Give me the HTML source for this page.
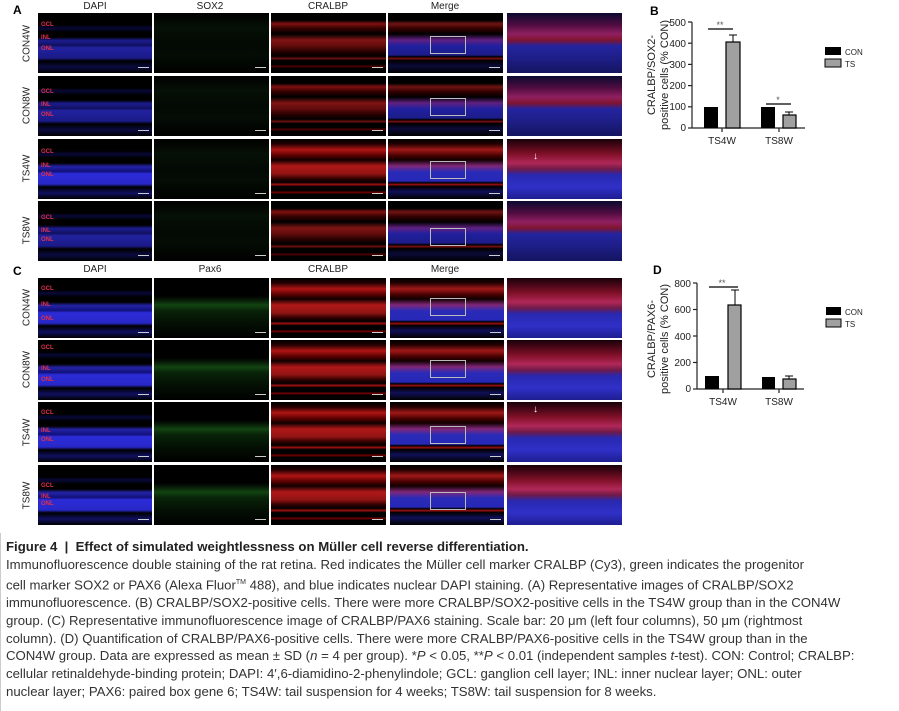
<!DOCTYPE html>
<html><head><meta charset="utf-8"><style>
body{margin:0;width:899px;height:711px;background:#fff;position:relative;overflow:hidden;font-family:"Liberation Sans",sans-serif}
.t{position:absolute;background:#000;overflow:hidden}
.h{position:absolute;font-size:10px;color:#222;text-align:center;width:116px}
.r{position:absolute;font-size:10px;color:#222;transform:rotate(-90deg);transform-origin:center;width:60px;text-align:center}
.lb{position:absolute;font-size:6px;color:#e0304a;font-weight:bold;left:3px}
.P{position:absolute;font-weight:bold;font-size:12px}
.dapi{background:linear-gradient(#000 0,#000 20%,#080838 25%,#000 32%,#000 40%,#1c1c90 46%,#101060 54%,#2222a0 58%,#1a1a88 75%,#000 80%,#0a0a40 90%,#000 100%)}
.dapib{background:linear-gradient(#000 0,#000 20%,#080838 25%,#000 32%,#000 40%,#2424a8 46%,#10107a 54%,#2c2cd8 58%,#2828c8 75%,#000 80%,#101060 90%,#000 100%)}
.sox{background:linear-gradient(#000 0,#061006 25%,#030903 50%,#040c04 70%,#000 100%)}
.pax{background:linear-gradient(#000 0,#000 30%,#0a200a 38%,#124412 45%,#082208 55%,#041004 75%,#000 100%)}
.cra{background:linear-gradient(#000 0,#000 12%,#801010 18%,#300 26%,#000 35%,#801414 45%,#600c0c 55%,#200 65%,#000 72%,#701010 76%,#000 79%,#000 86%,#500 89%,#000 92%)}
.crab{background:linear-gradient(#000 0,#200 8%,#b01414 18%,#500 28%,#100 35%,#b01818 45%,#901414 58%,#300 66%,#000 72%,#a01010 76%,#000 79%,#000 86%,#700 89%,#000 92%)}
.mer{background:linear-gradient(#000 0,#000 12%,#701414 18%,#300 26%,#000 35%,#602080 45%,#2020a0 55%,#1c1c88 70%,#000 73%,#801010 76%,#000 79%,#0a0a38 88%,#000 100%)}
.merb{background:linear-gradient(#000 0,#200 8%,#a01818 18%,#400 28%,#100 35%,#802878 45%,#2a2ab8 55%,#2828b8 70%,#000 73%,#a01010 76%,#000 79%,#101058 88%,#000 100%)}
.zm{background:linear-gradient(#0a0a30 0,#500c40 20%,#902060 35%,#801430 45%,#2424a0 55%,#1e1e88 75%,#141460 100%)}
.zmb{background:linear-gradient(#180008 0,#801028 25%,#b02858 40%,#701a48 50%,#2828b0 60%,#3030c8 80%,#1e1e90 100%)}
.box{position:absolute;border:1px solid #bbb;left:42px;top:22px;width:34px;height:16px}
.sb{position:absolute;right:3px;bottom:2px;width:11px;height:3px;border-top:1px solid #ccc}
.cap{position:absolute;left:6px;font-family:"Liberation Sans Narrow","Liberation Sans",sans-serif;font-size:13.2px;color:#333;white-space:nowrap;line-height:17.8px}
</style></head><body>
<div class="P" style="left:13px;top:3px">A</div>
<div class="h" style="left:37px;top:1px">DAPI</div>
<div class="h" style="left:152px;top:1px">SOX2</div>
<div class="h" style="left:270px;top:1px">CRALBP</div>
<div class="h" style="left:387px;top:1px">Merge</div>
<div class="r" style="left:-3px;top:38px">CON4W</div>
<div class="r" style="left:-3px;top:100px">CON8W</div>
<div class="r" style="left:-3px;top:163px">TS4W</div>
<div class="r" style="left:-3px;top:225px">TS8W</div>

<div class="t dapi" style="left:38px;top:13px;width:114px;height:60px"><div class="lb" style="top:9px">GCL</div><div class="lb" style="top:22px">INL</div><div class="lb" style="top:33px">ONL</div><div class="sb"></div></div>
<div class="t sox" style="left:154px;top:13px;width:115px;height:60px"><div class="sb"></div></div>
<div class="t cra" style="left:271px;top:13px;width:115px;height:60px"><div class="sb"></div></div>
<div class="t mer" style="left:388px;top:13px;width:115px;height:60px"><div class="box" style="top:23px"></div><div class="sb"></div></div>
<div class="t zm" style="left:507px;top:13px;width:115px;height:60px"></div>

<div class="t dapi" style="left:38px;top:76px;width:114px;height:60px"><div class="lb" style="top:13px">GCL</div><div class="lb" style="top:26px">INL</div><div class="lb" style="top:36px">ONL</div><div class="sb"></div></div>
<div class="t sox" style="left:154px;top:76px;width:115px;height:60px"><div class="sb"></div></div>
<div class="t cra" style="left:271px;top:76px;width:115px;height:60px"><div class="sb"></div></div>
<div class="t mer" style="left:388px;top:76px;width:115px;height:60px"><div class="box"></div><div class="sb"></div></div>
<div class="t zm" style="left:507px;top:76px;width:115px;height:60px"></div>

<div class="t dapib" style="left:38px;top:139px;width:114px;height:60px"><div class="lb" style="top:10px">GCL</div><div class="lb" style="top:24px">INL</div><div class="lb" style="top:33px">ONL</div><div class="sb"></div></div>
<div class="t sox" style="left:154px;top:139px;width:115px;height:60px"><div class="sb"></div></div>
<div class="t crab" style="left:271px;top:139px;width:115px;height:60px"><div class="sb"></div></div>
<div class="t merb" style="left:388px;top:139px;width:115px;height:60px"><div class="box"></div><div class="sb"></div></div>
<div class="t zmb" style="left:507px;top:139px;width:115px;height:60px"><div style="position:absolute;left:26px;top:12px;color:#fff;font-size:10px">↓</div></div>

<div class="t dapi" style="left:38px;top:201px;width:114px;height:60px"><div class="lb" style="top:14px">GCL</div><div class="lb" style="top:27px">INL</div><div class="lb" style="top:36px">ONL</div><div class="sb"></div></div>
<div class="t sox" style="left:154px;top:201px;width:115px;height:60px"><div class="sb"></div></div>
<div class="t cra" style="left:271px;top:201px;width:115px;height:60px"><div class="sb"></div></div>
<div class="t mer" style="left:388px;top:201px;width:115px;height:60px"><div class="box" style="top:27px"></div><div class="sb"></div></div>
<div class="t zm" style="left:507px;top:201px;width:115px;height:60px"></div>

<div class="P" style="left:13px;top:264px">C</div>
<div class="h" style="left:37px;top:264px">DAPI</div>
<div class="h" style="left:152px;top:264px">Pax6</div>
<div class="h" style="left:270px;top:264px">CRALBP</div>
<div class="h" style="left:387px;top:264px">Merge</div>
<div class="r" style="left:-3px;top:302px">CON4W</div>
<div class="r" style="left:-3px;top:364px">CON8W</div>
<div class="r" style="left:-3px;top:427px">TS4W</div>
<div class="r" style="left:-3px;top:490px">TS8W</div>

<div class="t dapib" style="left:38px;top:278px;width:114px;height:60px"><div class="lb" style="top:8px">GCL</div><div class="lb" style="top:24px">INL</div><div class="lb" style="top:38px">ONL</div><div class="sb"></div></div>
<div class="t pax" style="left:154px;top:278px;width:115px;height:60px"><div class="sb"></div></div>
<div class="t crab" style="left:271px;top:278px;width:115px;height:60px"><div class="sb"></div></div>
<div class="t merb" style="left:390px;top:278px;width:114px;height:60px"><div class="box" style="left:40px;top:20px"></div><div class="sb"></div></div>
<div class="t zmb" style="left:507px;top:278px;width:115px;height:60px"></div>

<div class="t dapib" style="left:38px;top:340px;width:114px;height:60px"><div class="lb" style="top:5px">GCL</div><div class="lb" style="top:26px">INL</div><div class="lb" style="top:37px">ONL</div><div class="sb"></div></div>
<div class="t pax" style="left:154px;top:340px;width:115px;height:60px"><div class="sb"></div></div>
<div class="t crab" style="left:271px;top:340px;width:115px;height:60px"><div class="sb"></div></div>
<div class="t merb" style="left:390px;top:340px;width:114px;height:60px"><div class="box" style="left:40px;top:20px"></div><div class="sb"></div></div>
<div class="t zmb" style="left:507px;top:340px;width:115px;height:60px"></div>

<div class="t dapib" style="left:38px;top:402px;width:114px;height:60px"><div class="lb" style="top:8px">GCL</div><div class="lb" style="top:26px">INL</div><div class="lb" style="top:35px">ONL</div><div class="sb"></div></div>
<div class="t pax" style="left:154px;top:402px;width:115px;height:60px"><div class="sb"></div></div>
<div class="t crab" style="left:271px;top:402px;width:115px;height:60px"><div class="sb"></div></div>
<div class="t merb" style="left:390px;top:402px;width:114px;height:60px"><div class="box" style="left:40px;top:24px"></div><div class="sb"></div></div>
<div class="t zmb" style="left:507px;top:402px;width:115px;height:60px"><div style="position:absolute;left:26px;top:2px;color:#fff;font-size:10px">↓</div></div>

<div class="t dapib" style="left:38px;top:465px;width:114px;height:60px"><div class="lb" style="top:18px">GCL</div><div class="lb" style="top:29px">INL</div><div class="lb" style="top:36px">ONL</div><div class="sb"></div></div>
<div class="t pax" style="left:154px;top:465px;width:115px;height:60px"><div class="sb"></div></div>
<div class="t crab" style="left:271px;top:465px;width:115px;height:60px"><div class="sb"></div></div>
<div class="t merb" style="left:390px;top:465px;width:114px;height:60px"><div class="box" style="left:40px;top:27px"></div><div class="sb"></div></div>
<div class="t zmb" style="left:507px;top:465px;width:115px;height:60px"></div>

<svg style="position:absolute;left:0;top:0" width="899" height="540" font-family="Liberation Sans, sans-serif">
<text x="650" y="15" font-size="12" font-weight="bold">B</text>
<g stroke="#222" stroke-width="1.2" fill="none"><line x1="692" y1="22" x2="692" y2="128"/><line x1="692" y1="128" x2="805" y2="128"/>
<line x1="688" y1="22" x2="692" y2="22"/><line x1="688" y1="43.2" x2="692" y2="43.2"/><line x1="688" y1="64.4" x2="692" y2="64.4"/><line x1="688" y1="85.6" x2="692" y2="85.6"/><line x1="688" y1="106.8" x2="692" y2="106.8"/><line x1="688" y1="128" x2="692" y2="128"/>
<line x1="722" y1="128" x2="722" y2="132"/><line x1="779" y1="128" x2="779" y2="132"/></g>
<g font-size="10" fill="#222" text-anchor="end"><text x="686" y="26">500</text><text x="686" y="47">400</text><text x="686" y="68">300</text><text x="686" y="89">200</text><text x="686" y="110">100</text><text x="686" y="131">0</text></g>
<rect x="704" y="107" width="14" height="21" fill="#000"/>
<rect x="726" y="42" width="14" height="86" fill="#a0a0a0" stroke="#000" stroke-width="1.2"/>
<line x1="733" y1="42" x2="733" y2="35" stroke="#000"/><line x1="729" y1="35" x2="737" y2="35" stroke="#000"/>
<rect x="761" y="107" width="14" height="21" fill="#000"/>
<rect x="783" y="115" width="13" height="13" fill="#a0a0a0" stroke="#000" stroke-width="1.2"/>
<line x1="789" y1="115" x2="789" y2="112" stroke="#000"/><line x1="785" y1="112" x2="793" y2="112" stroke="#000"/>
<line x1="708" y1="29" x2="733" y2="29" stroke="#000" stroke-width="1.2"/><text x="720" y="28" font-size="9" fill="#555" text-anchor="middle">**</text>
<line x1="766" y1="104" x2="791" y2="104" stroke="#000" stroke-width="1.2"/><text x="778" y="103" font-size="9" fill="#555" text-anchor="middle">*</text>
<g font-size="10" fill="#222" text-anchor="middle"><text x="722" y="144">TS4W</text><text x="779" y="144">TS8W</text></g>
<text transform="translate(655,75) rotate(-90)" font-size="11" fill="#222" text-anchor="middle">CRALBP/SOX2-</text>
<text transform="translate(668,75) rotate(-90)" font-size="11" fill="#222" text-anchor="middle">positive cells (% CON)</text>
<rect x="825" y="47" width="16" height="8" fill="#000"/><text x="845" y="55" font-size="8" fill="#222">CON</text>
<rect x="825" y="59" width="16" height="8" fill="#a0a0a0" stroke="#000"/><text x="845" y="67" font-size="8" fill="#222">TS</text>

<text x="653" y="274" font-size="12" font-weight="bold">D</text>
<g stroke="#222" stroke-width="1.2" fill="none"><line x1="697" y1="283" x2="697" y2="389"/><line x1="697" y1="389" x2="804" y2="389"/>
<line x1="693" y1="283" x2="697" y2="283"/><line x1="693" y1="309.5" x2="697" y2="309.5"/><line x1="693" y1="336" x2="697" y2="336"/><line x1="693" y1="362.5" x2="697" y2="362.5"/><line x1="693" y1="389" x2="697" y2="389"/>
<line x1="723" y1="389" x2="723" y2="393"/><line x1="779" y1="389" x2="779" y2="393"/></g>
<g font-size="10" fill="#222" text-anchor="end"><text x="691" y="287">800</text><text x="691" y="313">600</text><text x="691" y="340">400</text><text x="691" y="366">200</text><text x="691" y="392">0</text></g>
<rect x="705" y="376" width="14" height="13" fill="#000"/>
<rect x="728" y="305" width="13" height="84" fill="#a0a0a0" stroke="#000" stroke-width="1.2"/>
<line x1="735" y1="305" x2="735" y2="290" stroke="#000"/><line x1="731" y1="290" x2="739" y2="290" stroke="#000"/>
<rect x="762" y="377" width="13" height="12" fill="#000"/>
<rect x="783" y="379" width="13" height="10" fill="#a0a0a0" stroke="#000" stroke-width="1.2"/>
<line x1="789" y1="379" x2="789" y2="376" stroke="#000"/><line x1="785" y1="376" x2="793" y2="376" stroke="#000"/>
<line x1="709" y1="287" x2="738" y2="287" stroke="#000" stroke-width="1.2"/><text x="722" y="286" font-size="9" fill="#555" text-anchor="middle">**</text>
<g font-size="10" fill="#222" text-anchor="middle"><text x="723" y="405">TS4W</text><text x="779" y="405">TS8W</text></g>
<text transform="translate(655,339) rotate(-90)" font-size="11" fill="#222" text-anchor="middle">CRALBP/PAX6-</text>
<text transform="translate(668,339) rotate(-90)" font-size="11" fill="#222" text-anchor="middle">positive cells (% CON)</text>
<rect x="826" y="307" width="15" height="8" fill="#000"/><text x="845" y="315" font-size="8" fill="#222">CON</text>
<rect x="826" y="319" width="15" height="8" fill="#a0a0a0" stroke="#000"/><text x="845" y="327" font-size="8" fill="#222">TS</text>
</svg>

<div style="position:absolute;left:0;top:533px;width:1px;height:178px;background:#ccc"></div>
<div class="cap" style="top:538px;font-weight:bold;color:#222">Figure 4 &nbsp;|&nbsp; Effect of simulated weightlessness on Müller cell reverse differentiation.</div>
<div class="cap" style="top:556px">Immunofluorescence double staining of the rat retina. Red indicates the Müller cell marker CRALBP (Cy3), green indicates the progenitor<br>cell marker SOX2 or PAX6 (Alexa Fluor<sup style="font-size:7px">TM</sup> 488), and blue indicates nuclear DAPI staining. (A) Representative images of CRALBP/SOX2<br>immunofluorescence. (B) CRALBP/SOX2-positive cells. There were more CRALBP/SOX2-positive cells in the TS4W group than in the CON4W<br>group. (C) Representative immunofluorescence image of CRALBP/PAX6 staining. Scale bar: 20 μm (left four columns), 50 μm (rightmost<br>column). (D) Quantification of CRALBP/PAX6-positive cells. There were more CRALBP/PAX6-positive cells in the TS4W group than in the<br>CON4W group. Data are expressed as mean ± SD (<i>n</i> = 4 per group). *<i>P</i> &lt; 0.05, **<i>P</i> &lt; 0.01 (independent samples <i>t</i>-test). CON: Control; CRALBP:<br>cellular retinaldehyde-binding protein; DAPI: 4′,6-diamidino-2-phenylindole; GCL: ganglion cell layer; INL: inner nuclear layer; ONL: outer<br>nuclear layer; PAX6: paired box gene 6; TS4W: tail suspension for 4 weeks; TS8W: tail suspension for 8 weeks.</div>
</body></html>
